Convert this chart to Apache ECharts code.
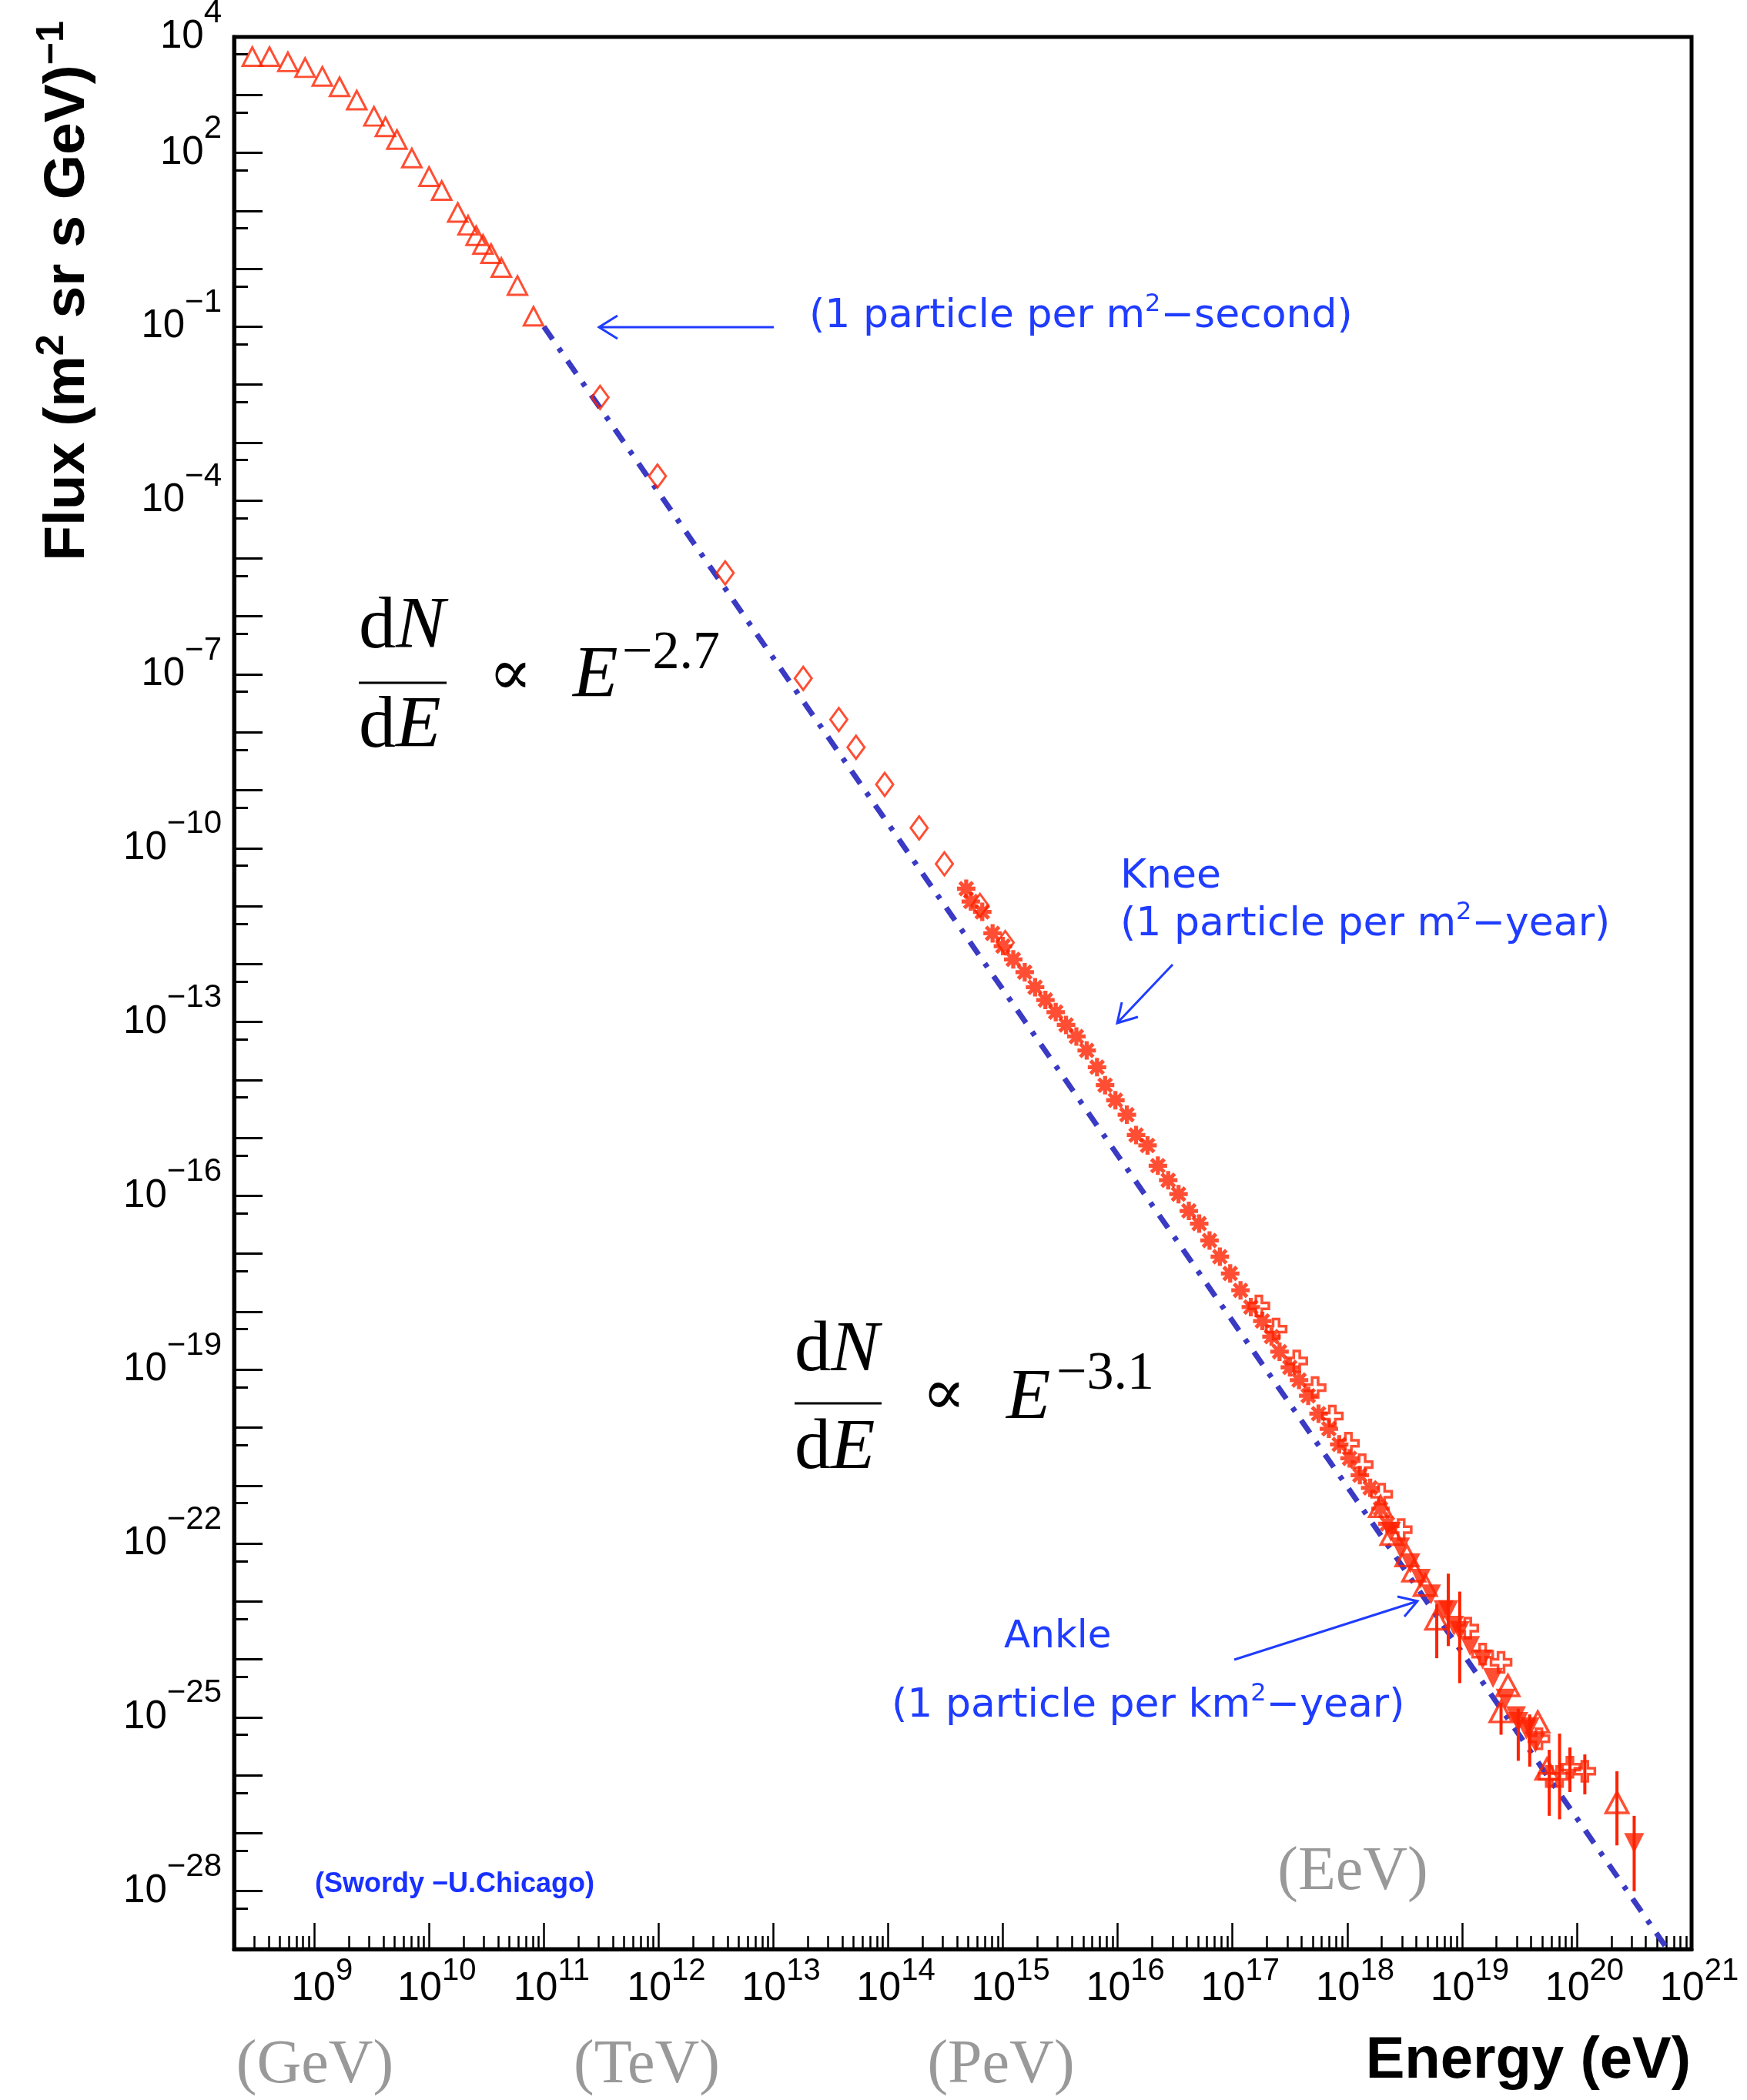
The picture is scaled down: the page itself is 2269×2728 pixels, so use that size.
<!DOCTYPE html>
<html>
<head>
<meta charset="utf-8">
<title>Cosmic ray energy spectrum</title>
<script src="https://cdn.jsdelivr.net/npm/echarts@6/dist/echarts.min.js"></script>
<style>
    html, body { margin: 0; padding: 0; background: #ffffff; }
    #chart { width: 2269px; height: 2728px; }
</style>
</head>
<body>
<div id="chart"></div>
<script>
// 所有数值都是从图上读出的 log10 值: 能量 log10(E/eV), 通量 log10(Flux)
var lowTriLogE = [8.46, 8.61, 8.77, 8.92, 9.07, 9.22, 9.37, 9.52, 9.62, 9.72, 9.85, 10.00, 10.11, 10.25, 10.34, 10.41, 10.47, 10.54, 10.63, 10.77, 10.91];
var lowTriLogF = [3.66, 3.66, 3.57, 3.47, 3.32, 3.14, 2.91, 2.63, 2.45, 2.23, 1.91, 1.59, 1.35, 0.97, 0.75, 0.57, 0.42, 0.26, 0.02, -0.29, -0.82];

var diamondLogE = [11.49, 11.99, 12.58, 13.26, 13.57, 13.72, 13.97, 14.27, 14.49, 14.80, 15.02];
var diamondLogF = [-2.22, -3.58, -5.25, -7.07, -7.78, -8.26, -8.90, -9.65, -10.27, -10.99, -11.63];

var asteriskLogE = [14.68, 14.72, 14.82, 14.91, 15.00, 15.09, 15.19, 15.28, 15.37, 15.46, 15.55, 15.64, 15.73, 15.82, 15.89,
    15.98, 16.08, 16.16, 16.26, 16.35, 16.44, 16.53, 16.62, 16.71, 16.80, 16.89, 16.98, 17.07, 17.16, 17.26,
    17.34, 17.41, 17.50, 17.58, 17.66, 17.75, 17.84, 17.93, 18.02, 18.11, 18.20, 18.29, 18.35];
var asteriskLogF = [-10.70, -10.92, -11.10, -11.47, -11.69, -11.92, -12.14, -12.40, -12.62, -12.83, -13.05, -13.25, -13.49, -13.78, -14.09,
    -14.35, -14.60, -14.95, -15.13, -15.48, -15.73, -15.97, -16.26, -16.48, -16.77, -17.05, -17.34, -17.63, -17.92, -18.16,
    -18.43, -18.69, -18.96, -19.18, -19.45, -19.76, -20.02, -20.29, -20.53, -20.82, -21.04, -21.40, -21.66];

var crossLogE = [17.23, 17.38, 17.56, 17.72, 17.87, 18.01, 18.13, 18.30, 18.47, 19.05, 19.18, 19.34, 19.67, 19.76, 19.85, 19.94, 20.07];
var crossLogF = [-17.90, -18.30, -18.85, -19.31, -19.80, -20.27, -20.64, -21.15, -21.76, -23.46, -23.91, -24.05, -25.37, -26.02, -26.02, -25.86, -25.93];

var hiTriLogE = [18.29, 18.39, 18.52, 18.58, 18.68, 18.78, 19.34, 19.40, 19.66, 19.74, 20.35];
var hiTriLogF = [-21.36, -21.84, -22.21, -22.47, -22.72, -23.30, -24.90, -24.45, -25.08, -25.89, -26.47];

var downTriLogE = [18.38, 18.46, 18.55, 18.64, 18.73, 18.84, 18.88, 18.93, 18.98, 19.07, 19.18, 19.27, 19.38, 19.47, 19.49, 19.56, 19.59, 19.64, 20.50];
var downTriLogF = [-21.80, -22.07, -22.34, -22.61, -22.88, -23.15, -23.15, -23.42, -23.51, -23.77, -24.00, -24.32, -24.68, -24.98, -25.08, -25.21, -25.17, -25.44, -27.17];

// 误差棒: 能量, 下端, 上端
var errLogE = [18.78, 18.88, 18.98, 19.34, 19.49, 19.59, 19.76, 19.85, 19.94, 20.07, 20.35, 20.50];
var errLogLow = [-23.98, -23.77, -24.41, -25.30, -25.75, -25.85, -26.70, -26.76, -26.29, -26.33, -27.21, -28.00];
var errLogHigh = [-23.05, -22.52, -22.83, -24.75, -24.85, -24.95, -25.56, -25.28, -25.52, -25.64, -25.93, -26.70];

// 蓝色点划线 (幂律)
var lineLogE = [11.0, 20.79];
var lineLogF = [-1.0, -29.0];

// 坐标轴刻度 (指数)
var xTickExp = [9, 10, 11, 12, 13, 14, 15, 16, 17, 18, 19, 20, 21];
var xLabelExp = [9, 10, 11, 12, 13, 14, 15, 16, 17, 18, 19, 20, 21];
var xMinorMult = [2, 3, 4, 5, 6, 7, 8, 9];
var yTickExp = [-29, -28, -27, -26, -25, -24, -23, -22, -21, -20, -19, -18, -17, -16, -15, -14, -13, -12, -11, -10,
    -9, -8, -7, -6, -5, -4, -3, -2, -1, 0, 1, 2, 3, 4];
var yLabelExp = [4, 2, -1, -4, -7, -10, -13, -16, -19, -22, -25, -28];
var yMinorMult = 5;

var X_MIN = 2e8, X_MAX = 1e21, Y_MIN = 1e-29, Y_MAX = 1e4;

var RED = "#ff2200";
var LINE_BLUE = "#3a3ac4";
var TEXT_BLUE = "#1f3cff";
var SANS = "Liberation Sans";
var SERIF = "Liberation Serif, DejaVu Serif";

var ASTERISK = "path://M0 39L100 39L100 61L0 61Z M39 0L61 0L61 100L39 100Z M22.2 7.3L92.7 77.8L77.8 92.7L7.3 22.2Z M92.7 22.2L22.2 92.7L7.3 77.8L77.8 7.3Z";
var OPEN_CROSS = "path://M35 0L65 0L65 35L100 35L100 65L65 65L65 100L35 100L35 65L0 65L0 35L35 35Z";

function pow10(e) {
    return Math.pow(10, e);
}

function points(logE, logF) {
    return logE.map(function (e, i) {
        return [pow10(e), pow10(logF[i])];
    });
}

function errorData() {
    return errLogE.map(function (e, i) {
        return [pow10(e), pow10(errLogLow[i]), pow10(errLogHigh[i])];
    });
}

// 刻度值, 边界上的值稍微往里收一点, 免得被过滤掉
function tickValues(exps, min, max) {
    return exps.map(function (e) {
        var v = pow10(e);
        if (v >= max) v = max * 0.9999;
        if (v <= min) v = min * 1.0001;
        return v;
    });
}

function minorTicks(mults, fromExp, toExp, min, max) {
    var out = [];
    for (var n = fromExp; n <= toExp; n++) {
        mults.forEach(function (k) {
            var v = k * pow10(n);
            if (v >= min * 0.999 && v <= max * 1.001) out.push(v);
        });
    }
    return out;
}

// 10^n 形式的刻度标签
function supLabel(value) {
    var e = Math.round(Math.log10(value));
    return "{b|10}{s|" + String(e).replace("-", "\u2212") + "}";
}

function openStyle(width) {
    return { color: "rgba(0,0,0,0)", borderColor: RED, borderWidth: width };
}

function text(x, y, str, font, color, align, extra) {
    var el = {
        type: "text", x: x, y: y, silent: true,
        style: { text: str, font: font, fill: color, align: align || "left", verticalAlign: "middle" }
    };
    if (extra) {
        for (var k in extra) el.style[k] = extra[k];
    }
    return el;
}

function arrow(x1, y1, x2, y2, head) {
    return [
        { type: "line", silent: true, shape: { x1: x1, y1: y1, x2: x2, y2: y2 }, style: { stroke: TEXT_BLUE, lineWidth: 3 } },
        { type: "polyline", silent: true, shape: { points: head }, style: { stroke: TEXT_BLUE, lineWidth: 3, fill: null } }
    ];
}

function fraction(x, yTop, yBar, yBottom, size, width) {
    var rich = {
        r: { fontFamily: SERIF, fontSize: size, fill: "#000" },
        i: { fontFamily: SERIF, fontSize: size, fontStyle: "italic", fill: "#000" }
    };
    return [
        { type: "text", x: x, y: yTop, silent: true, style: { text: "{r|d}{i|N}", rich: rich, verticalAlign: "middle" } },
        { type: "line", silent: true, shape: { x1: x, y1: yBar, x2: x + width, y2: yBar }, style: { stroke: "#000", lineWidth: 3 } },
        { type: "text", x: x, y: yBottom, silent: true, style: { text: "{r|d}{i|E}", rich: rich, verticalAlign: "middle" } }
    ];
}

function buildGraphic() {
    var g = [];
    // y 轴标题
    g.push({
        type: "text", x: 88, y: 378, rotation: Math.PI / 2, silent: true,
        style: {
            text: "{t|Flux (m}{s|2}{t| sr s GeV)}{s|\u22121}",
            align: "center", verticalAlign: "middle",
            rich: {
                t: { fontFamily: SANS, fontWeight: "bold", fontSize: 75, lineHeight: 80, fill: "#000" },
                s: { fontFamily: SANS, fontWeight: "bold", fontSize: 50, lineHeight: 50, padding: [0, 0, 40, 0], fill: "#000" }
            }
        }
    });
    // x 轴标题
    g.push(text(2196, 2678, "Energy (eV)", "bold 76px " + SANS, "#000", "right"));
    // 单位
    g.push(text(409, 2684, "(GeV)", "80px " + SERIF, "#999999", "center"));
    g.push(text(840, 2684, "(TeV)", "80px " + SERIF, "#999999", "center"));
    g.push(text(1300, 2684, "(PeV)", "80px " + SERIF, "#999999", "center"));
    g.push(text(1757, 2433, "(EeV)", "80px " + SERIF, "#999999", "center"));

    // 蓝色注释
    var supRich = {
        t: { fontFamily: "DejaVu Sans", fontSize: 52, lineHeight: 56, fill: TEXT_BLUE },
        s: { fontFamily: "DejaVu Sans", fontSize: 32, lineHeight: 32, padding: [0, 0, 30, 0], fill: TEXT_BLUE }
    };
    g.push(text(1051, 411, "{t|(1 particle per m}{s|2}{t|\u2212second)}", null, TEXT_BLUE, "left", { rich: supRich }));
    g = g.concat(arrow(1005, 425, 778, 425, [[802, 410], [778, 425], [802, 440]]));

    g.push(text(1455, 1139, "Knee", "52px DejaVu Sans", TEXT_BLUE, "left"));
    g.push(text(1455, 1201, "{t|(1 particle per m}{s|2}{t|\u2212year)}", null, TEXT_BLUE, "left", { rich: supRich }));
    g = g.concat(arrow(1523, 1253, 1451, 1329, [[1457, 1302], [1451, 1329], [1478, 1321]]));

    g.push(text(1304, 2127, "Ankle", "50px DejaVu Sans", TEXT_BLUE, "left"));
    g.push(text(1158, 2216, "{t|(1 particle per km}{s|2}{t|\u2212year)}", null, TEXT_BLUE, "left", { rich: supRich }));
    g = g.concat(arrow(1603, 2156, 1841, 2080, [[1815, 2074], [1841, 2080], [1824, 2100]]));

    g.push(text(409, 2448, "(Swordy \u2212U.Chicago)", "bold 36px " + SANS, "#1830ff", "left"));

    // 公式 dN/dE ∝ E^-2.7
    g = g.concat(fraction(466, 816, 887, 945, 96, 114));
    g.push(text(663, 880, "\u221D", "84px " + SERIF, "#000", "center"));
    g.push(text(744, 880, "E", "italic 96px " + SERIF, "#000", "left"));
    g.push(text(808, 850, "\u22122.7", "70px " + SERIF, "#000", "left"));

    // 公式 dN/dE ∝ E^-3.1
    g = g.concat(fraction(1032, 1755, 1823, 1882, 94, 113));
    g.push(text(1226, 1815, "\u221D", "84px " + SERIF, "#000", "center"));
    g.push(text(1307, 1817, "E", "italic 94px " + SERIF, "#000", "left"));
    g.push(text(1372, 1786, "\u22123.1", "70px " + SERIF, "#000", "left"));
    return g;
}

function buildOption() {
    var xMajor = tickValues(xTickExp, X_MIN, X_MAX);
    var xMinor = minorTicks(xMinorMult, 8, 20, X_MIN, X_MAX);
    var yMajor = tickValues(yTickExp, Y_MIN, Y_MAX);
    var yMinor = minorTicks([yMinorMult], -29, 3, Y_MIN, Y_MAX);

    var xRich = {
        b: { fontFamily: SANS, fontSize: 52, lineHeight: 50, color: "#000" },
        s: { fontFamily: SANS, fontSize: 40, lineHeight: 40, padding: [0, 0, 46, 0], color: "#000" }
    };
    var yRich = {
        b: { fontFamily: SANS, fontSize: 51, lineHeight: 50, color: "#000" },
        s: { fontFamily: SANS, fontSize: 42, lineHeight: 42, padding: [0, 0, 62, 0], color: "#000" }
    };
    var hidden = { show: false };

    return {
        animation: false,
        backgroundColor: "#ffffff",
        grid: {
            left: 304, right: 72, top: 48, bottom: 196,
            show: true, borderColor: "#000", borderWidth: 5,
            containLabel: false, outerBoundsMode: "none"
        },
        xAxis: [{
            type: "log", logBase: 10, min: X_MIN, max: X_MAX, position: "bottom",
            axisLine: { show: true, onZero: false, lineStyle: { color: "#000", width: 5 } },
            axisTick: { show: true, inside: true, length: 34, customValues: xMajor, lineStyle: { color: "#000", width: 2.5 } },
            minorTick: hidden, splitLine: hidden,
            axisLabel: { customValues: tickValues(xLabelExp, X_MIN, X_MAX), formatter: supLabel, margin: 27, padding: [0, 0, 0, 20], rich: xRich }
        }, {
            type: "log", logBase: 10, min: X_MIN, max: X_MAX, position: "bottom",
            axisLine: hidden,
            axisTick: { show: true, inside: true, length: 17, customValues: xMinor, lineStyle: { color: "#000", width: 2.5 } },
            minorTick: hidden, splitLine: hidden, axisLabel: hidden
        }],
        yAxis: [{
            type: "log", logBase: 10, min: Y_MIN, max: Y_MAX, position: "left",
            axisLine: { show: true, onZero: false, lineStyle: { color: "#000", width: 5 } },
            axisTick: { show: true, inside: true, length: 37, customValues: yMajor, lineStyle: { color: "#000", width: 3 } },
            minorTick: hidden, splitLine: hidden,
            axisLabel: { customValues: tickValues(yLabelExp, Y_MIN, Y_MAX), formatter: supLabel, margin: 16, rich: yRich }
        }, {
            type: "log", logBase: 10, min: Y_MIN, max: Y_MAX, position: "left",
            axisLine: hidden,
            axisTick: { show: true, inside: true, length: 18, customValues: yMinor, lineStyle: { color: "#000", width: 3 } },
            minorTick: hidden, splitLine: hidden, axisLabel: hidden
        }],
        graphic: buildGraphic(),
        series: [
            {
                name: "power law", type: "line", data: points(lineLogE, lineLogF),
                symbol: "none", z: 2,
                lineStyle: { color: LINE_BLUE, width: 7, type: [20, 14, 6, 14] }
            },
            {
                name: "error bars", type: "custom", z: 3,
                encode: { x: 0, y: [1, 2] },
                data: errorData(),
                renderItem: function (params, api) {
                    var e = api.value(0);
                    var lo = api.coord([e, api.value(1)]);
                    var hi = api.coord([e, api.value(2)]);
                    return {
                        type: "line",
                        shape: { x1: lo[0], y1: lo[1], x2: hi[0], y2: hi[1] },
                        style: { stroke: RED, lineWidth: 4 }
                    };
                }
            },
            {
                name: "low energy", type: "scatter", z: 4, data: points(lowTriLogE, lowTriLogF),
                symbol: "triangle", symbolSize: [25, 24], itemStyle: openStyle(3)
            },
            {
                name: "diamonds", type: "scatter", z: 4, data: points(diamondLogE, diamondLogF),
                symbol: "diamond", symbolSize: [22, 30], itemStyle: openStyle(3)
            },
            {
                name: "asterisks", type: "scatter", z: 4, data: points(asteriskLogE, asteriskLogF),
                symbol: ASTERISK, symbolSize: 24, itemStyle: { color: RED }
            },
            {
                name: "crosses", type: "scatter", z: 4, data: points(crossLogE, crossLogF),
                symbol: OPEN_CROSS, symbolSize: 26, itemStyle: openStyle(3.5)
            },
            {
                name: "high triangles", type: "scatter", z: 4, data: points(hiTriLogE, hiTriLogF),
                symbol: "triangle", symbolSize: [29, 27], itemStyle: openStyle(3.5)
            },
            {
                name: "down triangles", type: "scatter", z: 4, data: points(downTriLogE, downTriLogF),
                symbol: "triangle", symbolRotate: 180, symbolSize: 26, itemStyle: { color: RED }
            }
        ]
    };
}

var myChart = echarts.init(document.getElementById("chart"), null, { renderer: "canvas" });
myChart.setOption(buildOption());
</script>
</body>
</html>
